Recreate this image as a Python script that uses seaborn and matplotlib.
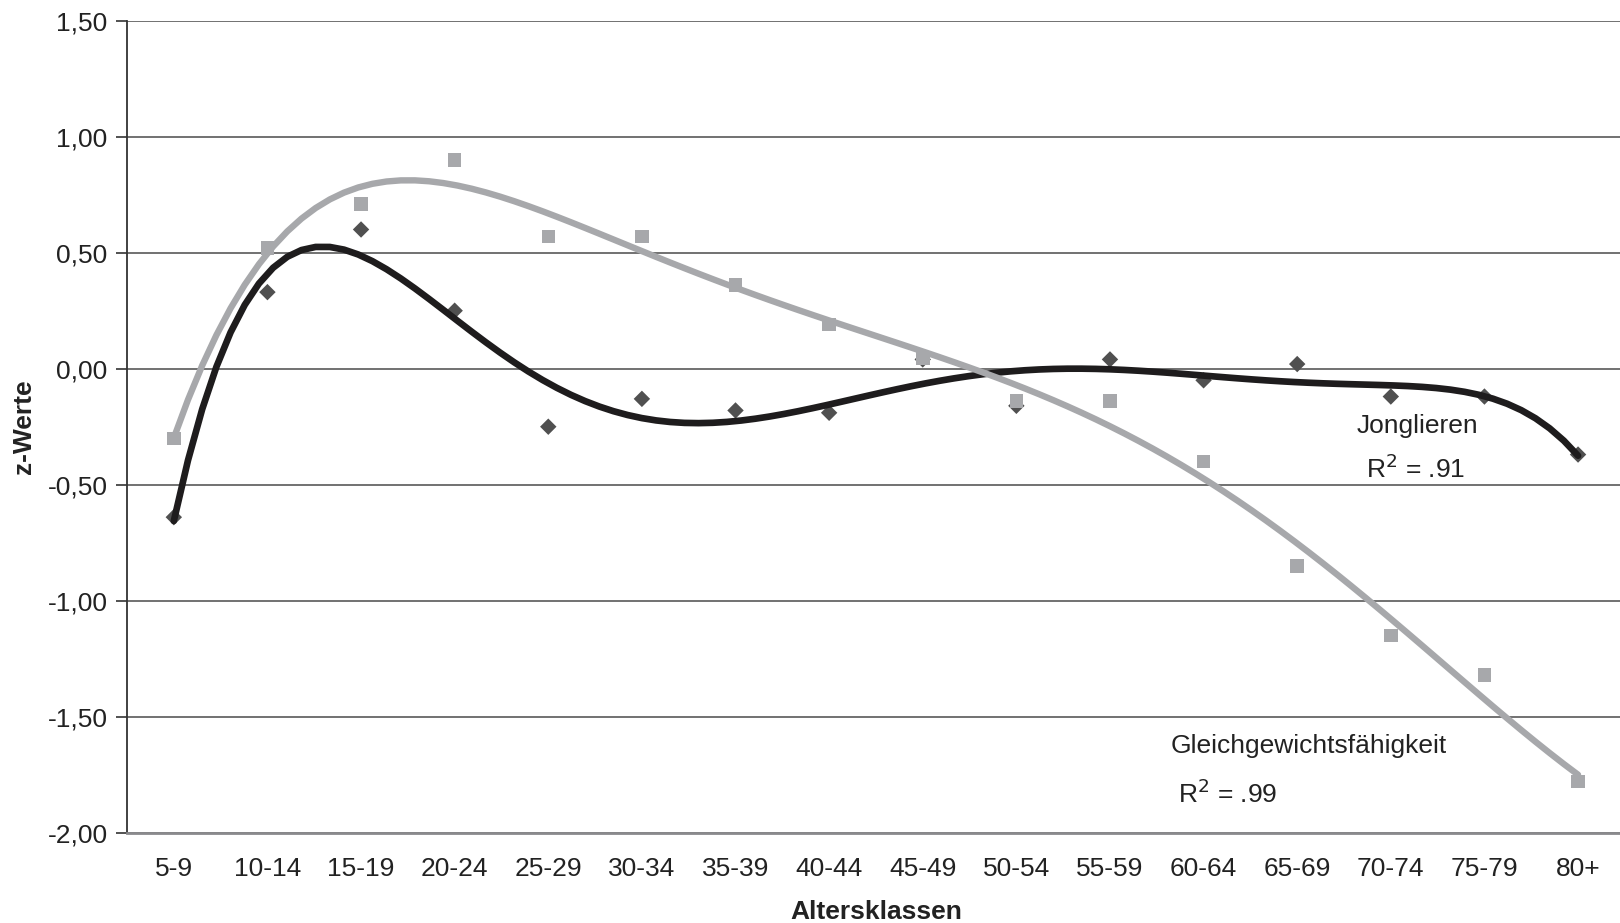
import matplotlib
matplotlib.use('Agg')
import matplotlib.pyplot as plt
import numpy as np
import seaborn as sn
import pandas as pd
from matplotlib.ticker import FuncFormatter

# Altersklassen und z-Werte
klassen = ['5-9', '10-14', '15-19', '20-24', '25-29', '30-34', '35-39', '40-44',
           '45-49', '50-54', '55-59', '60-64', '65-69', '70-74', '75-79', '80+']
jonglieren = [-0.64, 0.33, 0.60, 0.25, -0.25, -0.13, -0.18, -0.19,
              0.04, -0.16, 0.04, -0.05, 0.02, -0.12, -0.12, -0.37]
gleichgewicht = [-0.30, 0.52, 0.71, 0.90, 0.57, 0.57, 0.36, 0.19,
                 0.045, -0.14, -0.14, -0.40, -0.85, -1.15, -1.32, -1.78]
y_ticks = [1.5, 1.0, 0.5, 0.0, -0.5, -1.0, -1.5, -2.0]

data = pd.DataFrame({'pos': np.arange(len(klassen)), 'klasse': klassen,
                     'jong': jonglieren, 'gleich': gleichgewicht})

sn.set_style('white')
plt.rcParams['font.family'] = ['Liberation Sans', 'DejaVu Sans']

fig, ax = plt.subplots()
fig.set_size_inches(16.2, 9.23)
fig.subplots_adjust(left=0.0784, right=1.003, top=0.9776, bottom=0.0978)

dark = '#505050'
grey = '#a7a8ab'

# Punkte
sn.scatterplot(x='pos', y='jong', data=data, ax=ax, marker='D', s=70,
               color=dark, edgecolor='none', zorder=3)
sn.scatterplot(x='pos', y='gleich', data=data, ax=ax, marker='s', s=95,
               color=grey, edgecolor='none', zorder=4)

# Polynomiale Trendlinien
sn.regplot(x='pos', y='jong', data=data, ax=ax, order=6, ci=None, scatter=False,
           line_kws={'color': '#1e1c1d', 'lw': 4.8, 'zorder': 5})
sn.regplot(x='pos', y='gleich', data=data, ax=ax, order=6, ci=None, scatter=False,
           line_kws={'color': grey, 'lw': 4.6, 'zorder': 6})

ax.set_xlim(-0.5, len(klassen) - 0.5)
ax.set_ylim(-2.0, 1.5)
ax.set_xticks(data['pos'])
ax.set_xticklabels(klassen)
ax.set_yticks(y_ticks)
ax.yaxis.set_major_formatter(FuncFormatter(lambda v, p: ('%.2f' % v).replace('.', ',')))

for v in y_ticks:
    ax.axhline(v, color='#4a4a4a', lw=1.1, zorder=1)

for s in ['top', 'right']:
    ax.spines[s].set_visible(False)
ax.spines['left'].set_color('#333333')
ax.spines['left'].set_linewidth(1.3)
ax.spines['bottom'].set_color('#8a8a8d')
ax.spines['bottom'].set_linewidth(2)

ax.tick_params(axis='y', left=True, length=8, width=1.2, color='#333333',
               labelsize=19, labelcolor='#222222', pad=6)
ax.tick_params(axis='x', bottom=False, labelsize=19, labelcolor='#222222', pad=14)

ax.set_xlabel('Altersklassen', fontsize=19, fontweight='bold', color='#222222', labelpad=14)
ax.set_ylabel('z-Werte', fontsize=19, fontweight='bold', color='#222222', labelpad=8)

ax.text(13.28, -0.245, 'Jonglieren', fontsize=19, color='#222222', ha='center', va='center')
ax.text(13.26, -0.43, r'R$^2$ = .91', fontsize=19, color='#222222', ha='center', va='center')
ax.text(12.12, -1.628, 'Gleichgewichtsfähigkeit', fontsize=19, color='#222222',
        ha='center', va='center')
ax.text(11.26, -1.83, r'R$^2$ = .99', fontsize=19, color='#222222', ha='center', va='center')

plt.savefig('out.png', dpi=100)
